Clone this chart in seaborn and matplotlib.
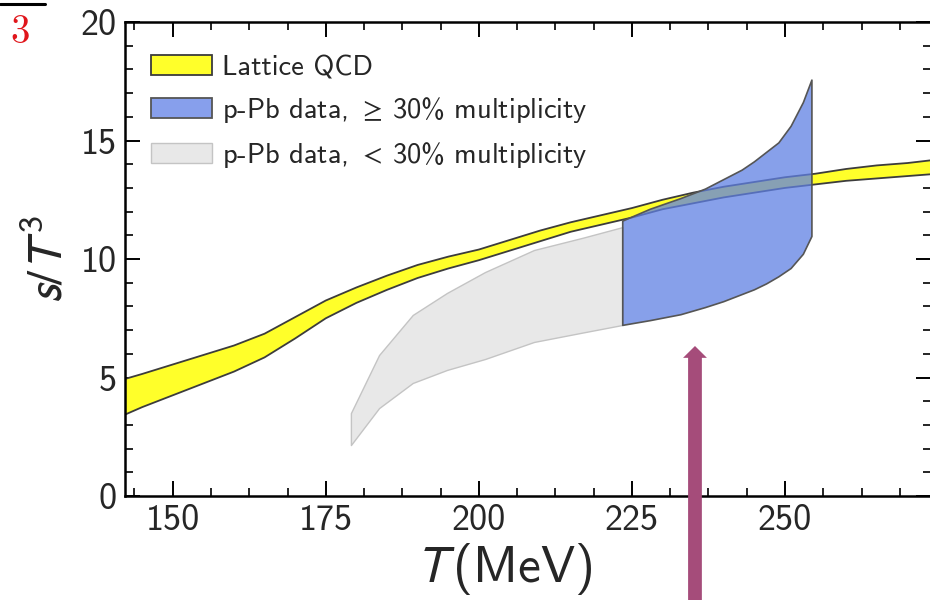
import numpy as np
import pandas as pd
import seaborn as sns
import matplotlib
matplotlib.use("Agg")
import matplotlib.pyplot as plt
from matplotlib.ticker import MultipleLocator, AutoMinorLocator
from matplotlib.lines import Line2D
from matplotlib.patches import Patch

# ---------------- data ----------------
T_lat = [141, 145, 150, 155, 160, 165, 170, 175, 180, 185, 190, 195, 200, 205,
         210, 215, 220, 225, 230, 235, 240, 245, 250, 255, 260, 265, 270, 275]
lat_up = [4.85, 5.15, 5.55, 5.95, 6.35, 6.85, 7.55, 8.25, 8.8, 9.3, 9.75, 10.1, 10.4, 10.8,
          11.2, 11.55, 11.85, 12.15, 12.5, 12.8, 13.05, 13.25, 13.45, 13.6, 13.8, 13.95, 14.05, 14.2]
lat_lo = [3.3, 3.75, 4.25, 4.75, 5.25, 5.85, 6.65, 7.5, 8.15, 8.7, 9.2, 9.6, 9.95, 10.35,
          10.75, 11.15, 11.45, 11.75, 12.1, 12.35, 12.6, 12.8, 13.0, 13.15, 13.3, 13.4, 13.5, 13.6]

T_high = [223.5, 228, 233, 237, 240, 243, 245, 247, 249, 251, 253, 254.4]
high_up = [11.6, 12.1, 12.55, 12.95, 13.35, 13.75, 14.1, 14.5, 14.9, 15.6, 16.6, 17.55]
high_lo = [7.2, 7.4, 7.65, 7.95, 8.2, 8.5, 8.7, 8.95, 9.25, 9.6, 10.2, 10.95]

T_low = [179.1, 183.7, 189.2, 194.8, 201, 209, 217, 223.5]
low_up = [3.5, 5.95, 7.64, 8.57, 9.45, 10.38, 10.9, 11.35]
low_lo = [2.15, 3.71, 4.77, 5.32, 5.78, 6.5, 6.9, 7.22]

labels = ["Lattice QCD",
          r"p-Pb data, $\geq\!$ 30% multiplicity",
          r"p-Pb data, $<\!$ 30% multiplicity"]
arrow_T = 235.3
arrow_tip = 6.33
arrow_tail = -4.9

# ---------------- style ----------------
sns.set_theme(style="ticks")
plt.rcParams["font.family"] = ["cmss10", "DejaVu Sans"]
plt.rcParams["axes.unicode_minus"] = False
plt.rcParams["mathtext.fontset"] = "stixsans"

fig = plt.figure(figsize=(9.3, 6.0), dpi=100)
ax = fig.add_axes([0.1344, 0.1733, 0.867, 0.79])

df_lat = pd.DataFrame({"T": T_lat, "up": lat_up, "lo": lat_lo})

ax.fill_between(T_low, low_lo, low_up, facecolor="#e8e8e8", edgecolor="#c4c4c4",
                lw=1.0, zorder=1)
ax.fill_between(df_lat["T"], df_lat["lo"], df_lat["up"], facecolor="#ffff2a",
                edgecolor="none", zorder=2)
sns.lineplot(data=df_lat, x="T", y="up", ax=ax, color="#3c3c3c", lw=1.3, zorder=2.1,
             legend=False)
sns.lineplot(data=df_lat, x="T", y="lo", ax=ax, color="#3c3c3c", lw=1.3, zorder=2.1,
             legend=False)
ax.fill_between(T_high, high_lo, high_up, facecolor="#5f80e4", alpha=0.75,
                edgecolor="none", zorder=3)
ax.fill_between(T_high, high_lo, high_up, facecolor="none", edgecolor="#555555",
                lw=1.2, zorder=3.1)

handles = [Patch(facecolor="#ffff2a", edgecolor="#3c3c3c", lw=1.3),
           Patch(facecolor="#879fec", edgecolor="#555555", lw=1.3),
           Patch(facecolor="#e8e8e8", edgecolor="#c4c4c4", lw=1.0)]
leg = ax.legend(handles, labels, loc="upper left", frameon=False, fontsize=20.5,
                handlelength=2.15, handleheight=0.7, handletextpad=0.35,
                labelspacing=0.52, borderaxespad=0.5, bbox_to_anchor=(0.0, 0.984))

# arrow
ax.arrow(arrow_T, arrow_tail, 0, arrow_tip - arrow_tail, width=2.25, head_width=3.9,
         head_length=0.5, length_includes_head=True, color="#a54c7a", ec="none",
         clip_on=False, zorder=5)

ax.set_xlim(142.2, 273.9)
ax.set_ylim(0, 20)
ax.xaxis.set_major_locator(MultipleLocator(25))
ax.xaxis.set_minor_locator(AutoMinorLocator(4))
ax.yaxis.set_major_locator(MultipleLocator(5))
ax.yaxis.set_minor_locator(AutoMinorLocator(5))
ax.tick_params(which="both", direction="in", top=True, right=True, labelsize=26,
               color="black")
ax.tick_params(which="major", length=11, width=1.4, pad=6)
ax.tick_params(which="minor", length=6, width=1.2)
for s in ax.spines.values():
    s.set_linewidth(1.8)
    s.set_color("black")

ax.set_xlabel(r"$T\,$(MeV)", fontsize=37, labelpad=0)
ax.xaxis.set_label_coords(0.47, -0.155)
ax.xaxis.label.set_va("center")
ax.set_ylabel(r"$s/T^3$", fontsize=36, labelpad=6)

# fragment from neighbouring panel
fig.text(0.022, 0.945, "3", color="#e0151b", fontsize=28, family="cmr10",
         ha="center", va="center")
fig.add_artist(Line2D([0, 0.048], [0.994, 0.994], color="black", lw=2.2))

fig.savefig("out.png", dpi=100)
